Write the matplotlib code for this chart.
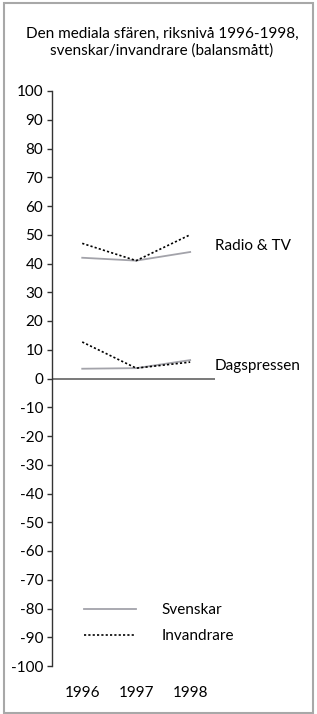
import matplotlib
matplotlib.use("Agg")
import matplotlib.pyplot as plt
from matplotlib.patches import Rectangle

plt.rcParams['font.family'] = ['Lato', 'DejaVu Sans']

# Data (balansmått)
years = ["1996", "1997", "1998"]
radio_svenskar = [42, 41, 44]
radio_invandrare = [47, 41, 50]
press_svenskar = [3.4, 3.6, 6.4]
press_invandrare = [12.7, 3.6, 5.7]
yticks = list(range(-100, 101, 10))

fs = 11
fig = plt.figure(figsize=(3.17, 7.14), dpi=100)
ax = fig.add_axes([52 / 317, 48 / 714, 163 / 317, 575 / 714])

x = range(len(years))
gray = "#a3a3aa"
dots = (0, (1.3, 1.3))

ax.plot(x, radio_svenskar, color=gray, lw=1.3, label="Svenskar")
ax.plot(x, radio_invandrare, color="black", lw=1.2, ls=dots, label="Invandrare")
ax.plot(x, press_svenskar, color=gray, lw=1.3)
ax.plot(x, press_invandrare, color="black", lw=1.2, ls=dots)

ax.axhline(0, color="#555555", lw=1.1, zorder=0)

ax.set_xlim(-0.56, 2.46)
ax.set_ylim(-100, 100)
ax.set_yticks(yticks)
ax.set_yticklabels([str(v) for v in yticks], fontsize=fs)
ax.set_xticks(list(x))
ax.set_xticklabels(years, fontsize=fs)
ax.tick_params(axis="y", length=3.3, width=1, pad=3.0, color="#333333")
ax.tick_params(axis="x", length=0, pad=14.5)

for side in ["top", "right", "bottom"]:
    ax.spines[side].set_visible(False)
ax.spines["left"].set_color("#333333")
ax.spines["left"].set_linewidth(1)

# series group labels
ax.text(2.46, radio_invandrare[2] - 4, "Radio & TV", fontsize=fs, va="center", ha="left",
        clip_on=False)
ax.text(2.46, press_svenskar[2] - 2, "Dagspressen", fontsize=fs, va="center", ha="left",
        clip_on=False)

ax.legend(loc="center left", bbox_to_anchor=(0.196, 0.0743), frameon=False,
          fontsize=fs, handlelength=3.4, handletextpad=1.7, labelspacing=0.8,
          borderpad=0, borderaxespad=0)

fig.text(162 / 317, 1 - 42 / 714, "Den mediala sfären, riksnivå 1996-1998,\nsvenskar/invandrare (balansmått)",
         ha="center", va="center", fontsize=fs, linespacing=1.25)

# outer frame
fig.patches.append(Rectangle((4 / 317, 1.5 / 714), 309 / 317, 710 / 714, transform=fig.transFigure,
                             fill=False, edgecolor="#a8a8a8", lw=1.5))

fig.savefig("out.png", dpi=100)
